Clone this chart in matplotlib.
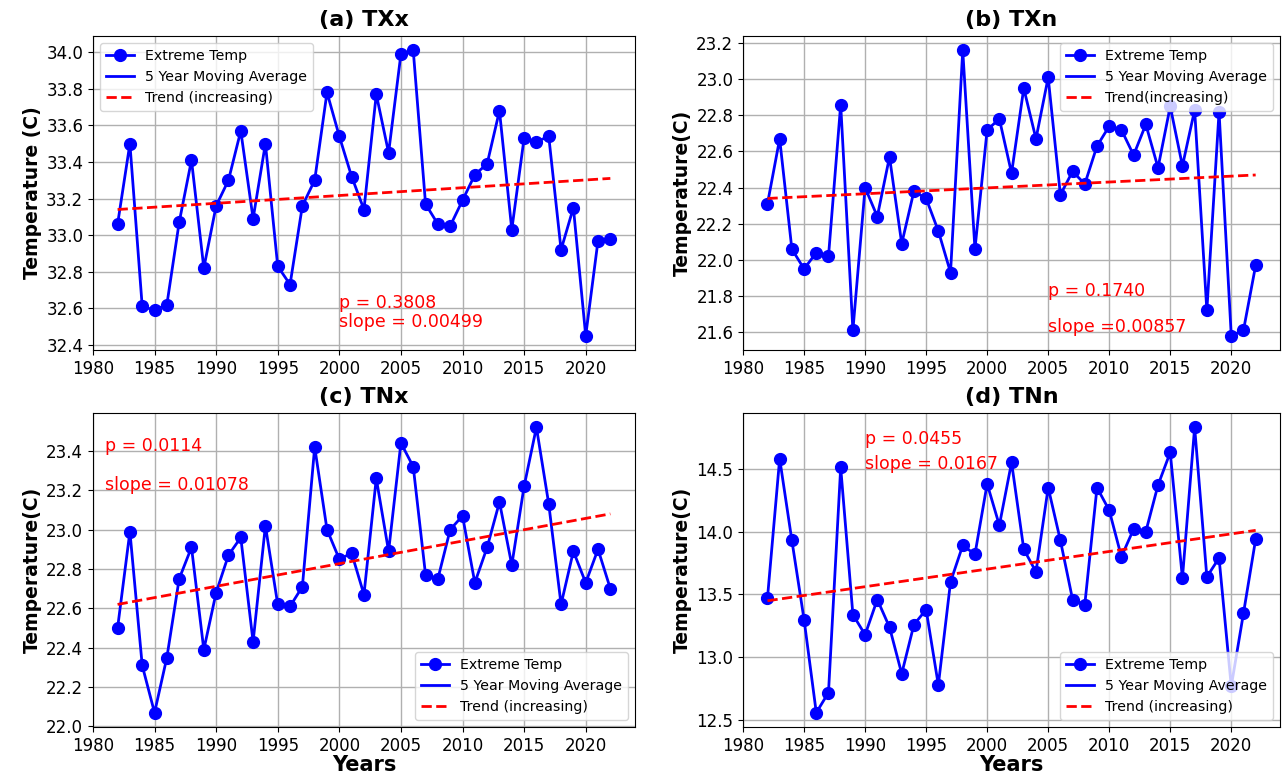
import matplotlib
matplotlib.use('Agg')
import matplotlib.pyplot as plt
import numpy as np

years = np.arange(1982, 2023)

txx = [33.06, 33.50, 32.61, 32.59, 32.62, 33.07, 33.41, 32.82, 33.16, 33.30,
       33.57, 33.09, 33.50, 32.83, 32.73, 33.16, 33.30, 33.78, 33.54, 33.32,
       33.14, 33.77, 33.45, 33.99, 34.01, 33.17, 33.06, 33.05, 33.19, 33.33,
       33.39, 33.68, 33.03, 33.53, 33.51, 33.54, 32.92, 33.15, 32.45, 32.97,
       32.98]
txn = [22.31, 22.67, 22.06, 21.95, 22.04, 22.02, 22.86, 21.61, 22.40, 22.24,
       22.57, 22.09, 22.38, 22.34, 22.16, 21.93, 23.16, 22.06, 22.72, 22.78,
       22.48, 22.95, 22.67, 23.01, 22.36, 22.49, 22.42, 22.63, 22.74, 22.72,
       22.58, 22.75, 22.51, 22.85, 22.52, 22.83, 21.72, 22.82, 21.58, 21.61,
       21.97]
tnx = [22.50, 22.99, 22.31, 22.07, 22.35, 22.75, 22.91, 22.39, 22.68, 22.87,
       22.96, 22.43, 23.02, 22.62, 22.61, 22.71, 23.42, 23.00, 22.85, 22.88,
       22.67, 23.26, 22.89, 23.44, 23.32, 22.77, 22.75, 23.00, 23.07, 22.73,
       22.91, 23.14, 22.82, 23.22, 23.52, 23.13, 22.62, 22.89, 22.73, 22.90,
       22.70]
tnn = [13.47, 14.58, 13.93, 13.30, 12.56, 12.72, 14.51, 13.34, 13.18, 13.46,
       13.24, 12.87, 13.26, 13.38, 12.78, 13.60, 13.89, 13.82, 14.38, 14.05,
       14.55, 13.86, 13.68, 14.35, 13.93, 13.46, 13.42, 14.35, 14.17, 13.80,
       14.02, 14.00, 14.37, 14.63, 13.63, 14.83, 13.64, 13.79, 12.77, 13.35,
       13.94]

# trend line values at 1982 and 2022
trend_txx = [33.14, 33.31]
trend_txn = [22.34, 22.47]
trend_tnx = [22.62, 23.08]
trend_tnn = [13.45, 14.01]

panels = [
    ('(a) TXx', txx, trend_txx, 'Temperature (C)', 'Trend (increasing)', 'upper left',
     [(2000, 32.6, 'p = 0.3808'), (2000, 32.5, 'slope = 0.00499')], False),
    ('(b) TXn', txn, trend_txn, 'Temperature(C)', 'Trend(increasing)', 'upper right',
     [(2005, 21.8, 'p = 0.1740'), (2005, 21.6, 'slope =0.00857')], False),
    ('(c) TNx', tnx, trend_tnx, 'Temperature(C)', 'Trend (increasing)', 'lower right',
     [(1981, 23.4, 'p = 0.0114'), (1981, 23.2, 'slope = 0.01078')], True),
    ('(d) TNn', tnn, trend_tnn, 'Temperature(C)', 'Trend (increasing)', 'lower right',
     [(1990, 14.7, 'p = 0.0455'), (1990, 14.5, 'slope = 0.0167')], True),
]

positions = [[0.0725, 0.5495, 0.4228, 0.4041],
             [0.5796, 0.5495, 0.4189, 0.4041],
             [0.0725, 0.0644, 0.4228, 0.4041],
             [0.5796, 0.0644, 0.4189, 0.4041]]

fig = plt.figure(figsize=(12.82, 7.77), dpi=100)

for pos, (title, vals, trend, ylab, tlab, loc, notes, bottom) in zip(positions, panels):
    ax = fig.add_axes(pos)
    ax.plot(years, vals, color='blue', marker='o', markersize=8.5, lw=2, label='Extreme Temp')
    ax.plot([], [], color='blue', lw=2, label='5 Year Moving Average')
    ax.plot([years[0], years[-1]], trend, color='red', ls='--', lw=2, label=tlab)
    for x, y, s in notes:
        ax.text(x, y, s, color='red', fontsize=12.5)
    ax.grid(True, lw=1)
    ax.set_axisbelow(True)
    ax.set_title(title, fontsize=16, fontweight='bold', pad=7)
    ax.set_ylabel(ylab, fontsize=13.5, fontweight='bold', labelpad=3)
    if bottom:
        ax.set_xlabel('Years', fontsize=15, fontweight='bold', labelpad=0)
    ax.tick_params(labelsize=12)
    ax.set_xticks(np.arange(1980, 2025, 5))
    ax.set_xlim(1980, 2024)
    ax.legend(loc=loc, fontsize=10.2)

fig.savefig('out.png', dpi=100)
